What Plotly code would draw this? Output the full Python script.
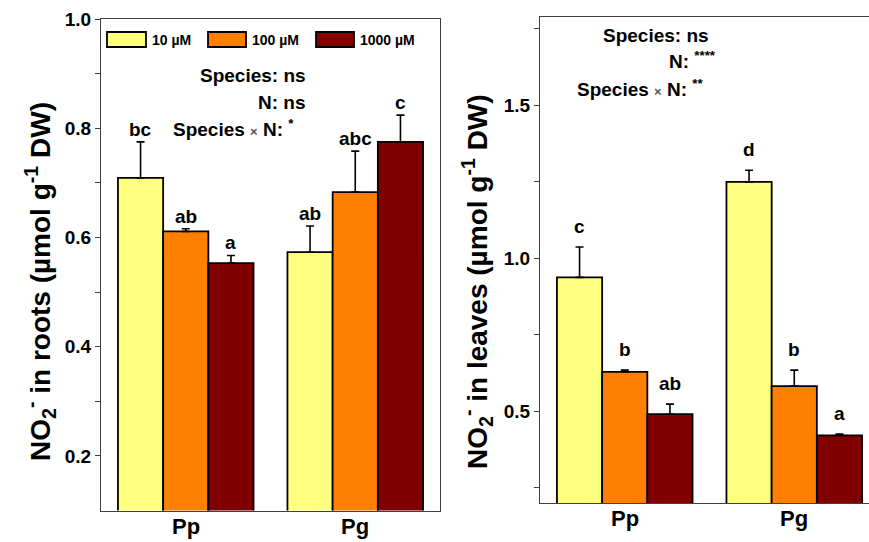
import plotly.graph_objects as go

# ---------------- data ----------------
species = ["Pp", "Pg"]
conc_labels = ["10 µM", "100 µM", "1000 µM"]
colors = ["#FFFF80", "#FF8000", "#800000"]

roots_10 = [0.709, 0.573]
roots_100 = [0.611, 0.683]
roots_1000 = [0.553, 0.775]
roots_err_10 = [0.066, 0.048]
roots_err_100 = [0.005, 0.075]
roots_err_1000 = [0.014, 0.049]
roots_letters_10 = ["bc", "ab"]
roots_letters_100 = ["ab", "abc"]
roots_letters_1000 = ["a", "c"]

leaves_10 = [0.938, 1.250]
leaves_100 = [0.629, 0.583]
leaves_1000 = [0.491, 0.422]
leaves_err_10 = [0.099, 0.038]
leaves_err_100 = [0.006, 0.052]
leaves_err_1000 = [0.033, 0.004]
leaves_letters_10 = ["c", "d"]
leaves_letters_100 = ["b", "b"]
leaves_letters_1000 = ["ab", "a"]

roots_major_ticks = [0.2, 0.4, 0.6, 0.8, 1.0]
roots_major_labels = ["0.2", "0.4", "0.6", "0.8", "1.0"]
roots_minor_ticks = [0.3, 0.5, 0.7, 0.9]
leaves_major_ticks = [0.5, 1.0, 1.5]
leaves_major_labels = ["0.5", "1.0", "1.5"]
leaves_minor_ticks = [0.25, 0.75, 1.25, 1.75]

roots_stats = ["Species: ns", "N: ns",
               "Species <span style='font-size:13px;color:#555'>×</span> N: <sup>*</sup>"]
leaves_stats = ["Species: ns", "N: <sup>****</sup>",
                "Species <span style='font-size:13px;color:#555'>×</span> N: <sup>**</sup>"]

roots_title = "NO<sub>2</sub><sup>-</sup> in roots (µmol g<sup>-1</sup> DW)"
leaves_title = "NO<sub>2</sub><sup>-</sup> in leaves (µmol g<sup>-1</sup> DW)"

# ---------------- figure ----------------
W, H = 869, 542
FONT = "Arial, Liberation Sans, sans-serif"
AXC = "#404040"


def px(x):
    return x / W


def py(y):
    return 1 - y / H


fig = go.Figure()

panels = [
    ("x", "y", [roots_10, roots_100, roots_1000],
     [roots_err_10, roots_err_100, roots_err_1000],
     [roots_letters_10, roots_letters_100, roots_letters_1000], 0),
    ("x2", "y2", [leaves_10, leaves_100, leaves_1000],
     [leaves_err_10, leaves_err_100, leaves_err_1000],
     [leaves_letters_10, leaves_letters_100, leaves_letters_1000], 8),
]

annotations = []
for xa, ya, vals, errs, letters, yshift in panels:
    for i in range(3):
        fig.add_trace(go.Bar(
            x=species, y=vals[i], name=conc_labels[i],
            marker=dict(color=colors[i], line=dict(color="black", width=1.8)),
            error_y=dict(type="data", symmetric=False, array=errs[i],
                         arrayminus=[0] * len(errs[i]),
                         color="black", thickness=1.6, width=4),
            xaxis=xa, yaxis=ya, showlegend=False,
        ))
        bw = 0.8 / 3
        for j in range(len(species)):
            annotations.append(dict(
                x=j + (i - 1) * bw, y=vals[i][j] + errs[i][j],
                xref=xa, yref=ya, text="<b>%s</b>" % letters[i][j],
                showarrow=False, yanchor="bottom", yshift=yshift,
                font=dict(size=19, color="black", family=FONT)))
    for j, sp in enumerate(species):
        annotations.append(dict(
            x=j, y=0, xref=xa, yref=ya + " domain", text="<b>%s</b>" % sp,
            showarrow=False, yanchor="top", yshift=-1,
            font=dict(size=22, color="black", family=FONT)))

for txt, xr, yc in zip(roots_stats, [308, 308, 296], [75, 102, 128]):
    annotations.append(dict(x=px(xr), y=py(yc), xref="paper", yref="paper",
                            text="<b>%s</b>" % txt, showarrow=False,
                            xanchor="right", yanchor="middle",
                            font=dict(size=19, color="black", family=FONT)))
for txt, xr, yc in zip(leaves_stats, [711, 718, 705], [35, 60, 88]):
    annotations.append(dict(x=px(xr), y=py(yc), xref="paper", yref="paper",
                            text="<b>%s</b>" % txt, showarrow=False,
                            xanchor="right", yanchor="middle",
                            font=dict(size=19, color="black", family=FONT)))

annotations.append(dict(x=px(40), y=py(282), xref="paper", yref="paper",
                        text="<b>%s</b>" % roots_title, showarrow=False,
                        textangle=-90, xanchor="center", yanchor="middle",
                        font=dict(size=28, color="black", family=FONT)))
annotations.append(dict(x=px(477), y=py(282), xref="paper", yref="paper",
                        text="<b>%s</b>" % leaves_title, showarrow=False,
                        textangle=-90, xanchor="center", yanchor="middle",
                        font=dict(size=28, color="black", family=FONT)))

shapes = []
legend_boxes = [(107, 146), (208, 246), (316, 354)]
for (x0, x1), c, lab in zip(legend_boxes, colors, conc_labels):
    shapes.append(dict(type="rect", xref="paper", yref="paper",
                       x0=px(x0), x1=px(x1), y0=py(47), y1=py(32),
                       fillcolor=c, line=dict(color="black", width=1.8)))
    annotations.append(dict(x=px(x1 + 4), y=py(40), xref="paper", yref="paper",
                            text="<b>%s</b>" % lab, showarrow=False,
                            xanchor="left", yanchor="middle",
                            font=dict(size=14, color="black", family=FONT)))

tickfont = dict(size=19, color="black", family=FONT, weight="bold")
line_common = dict(showline=True, linecolor=AXC, linewidth=1, showgrid=False,
                   zeroline=False, automargin=False)

fig.update_layout(
    width=W, height=H,
    margin=dict(l=0, r=0, t=0, b=0, pad=0, autoexpand=False),
    paper_bgcolor="white", plot_bgcolor="white",
    barmode="group", bargap=0.2, bargroupgap=0,
    font=dict(family=FONT, color="black"),
    xaxis=dict(domain=[px(101), px(440)], range=[-0.5, 1.5], type="category",
               anchor="y", mirror=True, ticks="", showticklabels=False,
               **line_common),
    yaxis=dict(domain=[py(510.5), py(19)], range=[0.1, 1.0], anchor="x",
               mirror=True, ticks="outside", ticklen=5, tickcolor=AXC,
               tickmode="array", tickvals=roots_major_ticks,
               ticktext=roots_major_labels, tickfont=tickfont,
               minor=dict(tickmode="array", tickvals=roots_minor_ticks,
                          ticks="outside", ticklen=5, tickcolor=AXC),
               **line_common),
    xaxis2=dict(domain=[px(540), 1.0], range=[-0.5, 1.441], type="category",
                anchor="y2", mirror=True, ticks="", showticklabels=False,
                **line_common),
    yaxis2=dict(domain=[py(503.3), py(16.5)], range=[0.2, 1.79], anchor="x2",
                mirror=False, ticks="outside", ticklen=5, tickcolor=AXC,
                tickmode="array", tickvals=leaves_major_ticks,
                ticktext=leaves_major_labels, tickfont=tickfont,
                minor=dict(tickmode="array", tickvals=leaves_minor_ticks,
                           ticks="outside", ticklen=5, tickcolor=AXC),
                **line_common),
    annotations=annotations,
    shapes=shapes,
)

fig.write_html("out.html", config={"displayModeBar": False},
               post_script="document.body.style.margin='0px';document.body.style.overflow='hidden';")
